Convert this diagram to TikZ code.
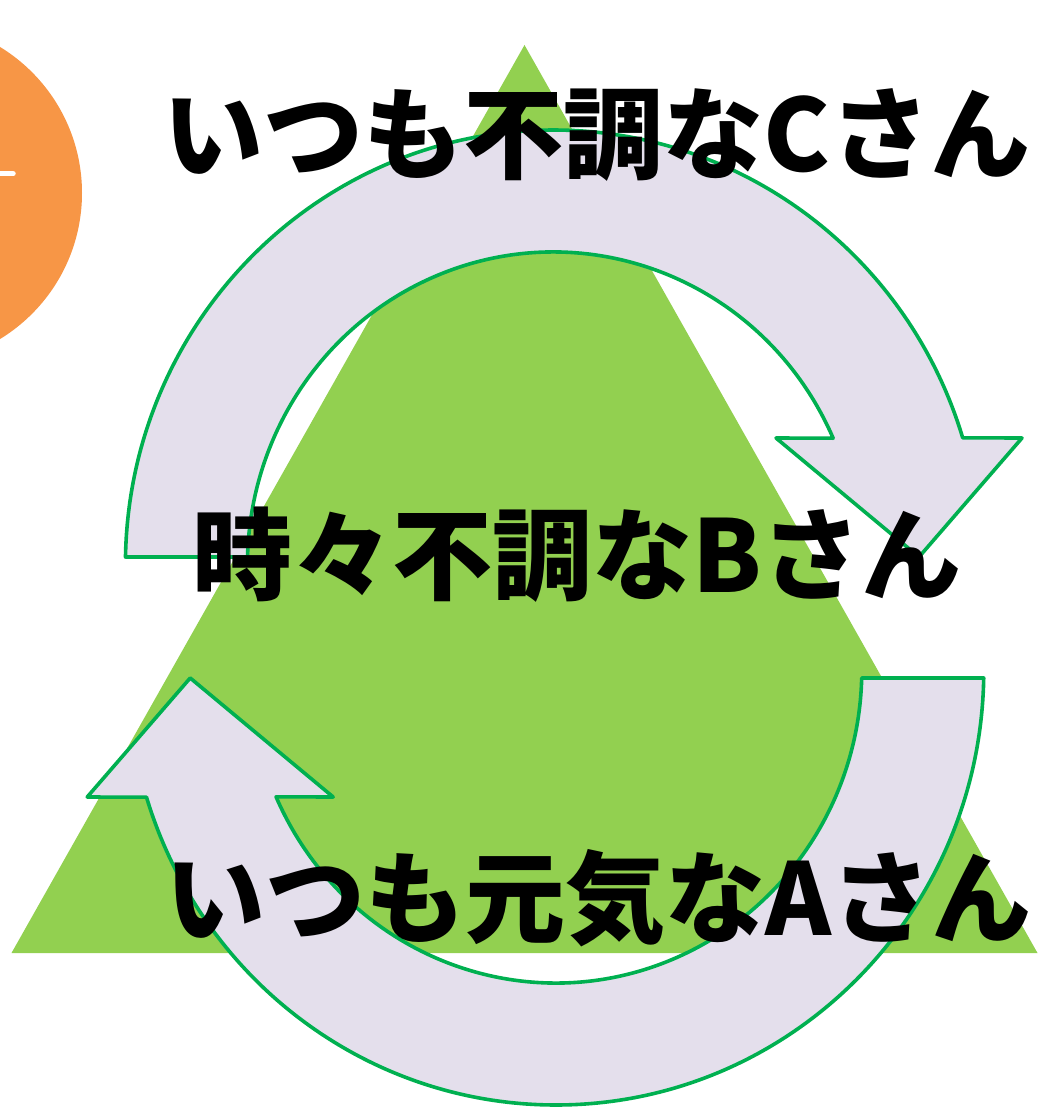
\documentclass[tikz,border=0pt]{standalone}
\usepackage{fontspec}
\newfontfamily\jp{Noto Sans CJK JP}
\definecolor{orng}{HTML}{F79646}
\definecolor{tri}{HTML}{92D050}
\definecolor{lav}{HTML}{E4DFEC}
\definecolor{edge}{HTML}{00B050}
\tikzset{
  cyc/.style={fill=lav, draw=edge, line width=3.6pt, line join=round},
  lbl/.style={font=\jp\bfseries\fontsize{100}{110}\selectfont, inner sep=0pt, text=black}
}
\begin{document}
\begin{tikzpicture}[x=1pt,y=-1pt]
\useasboundingbox (0,0) rectangle (1039,1113);
\fill[white] (0,0) rectangle (1039,1113);
\begin{scope}
  \clip (0,0) rectangle (1039,1113);
  \fill[orng] (-89,193) circle[radius=171];
  \draw[white, line width=5.5pt, line cap=round] (-5,173.7) -- (13,173.7);
\end{scope}
% triangle
\fill[tri] (524.5,45) -- (1037.5,953) -- (11.5,953) -- cycle;
% top circular arrow
\path[cyc] ([shift={(553.4,565)}]181.05:428 and 435)
  arc[start angle=181.05, end angle=343, x radius=428, y radius=435]
  -- (1022,438) -- (919,557) -- (776,438)
  -- ([shift={(553.4,565)}]336.1:306 and 313)
  arc[start angle=336.1, end angle=181.46, x radius=306, y radius=313]
  -- cycle;
% bottom circular arrow
\path[cyc] ([shift={(555.8,670)}]1.05:428 and 435)
  arc[start angle=1.05, end angle=163, x radius=428, y radius=435]
  -- (87.2,797) -- (190.2,678) -- (333.2,797)
  -- ([shift={(555.8,670)}]156.1:306 and 313)
  arc[start angle=156.1, end angle=1.46, x radius=306, y radius=313]
  -- cycle;
% labels
\node[lbl] (c) at (597,135) {いつも不調なCさん};
\node[lbl] (b) at (577,555) {時々不調なBさん};
\node[lbl] (a) at (598,898) {いつも元気なAさん};
\end{tikzpicture}
\end{document}
